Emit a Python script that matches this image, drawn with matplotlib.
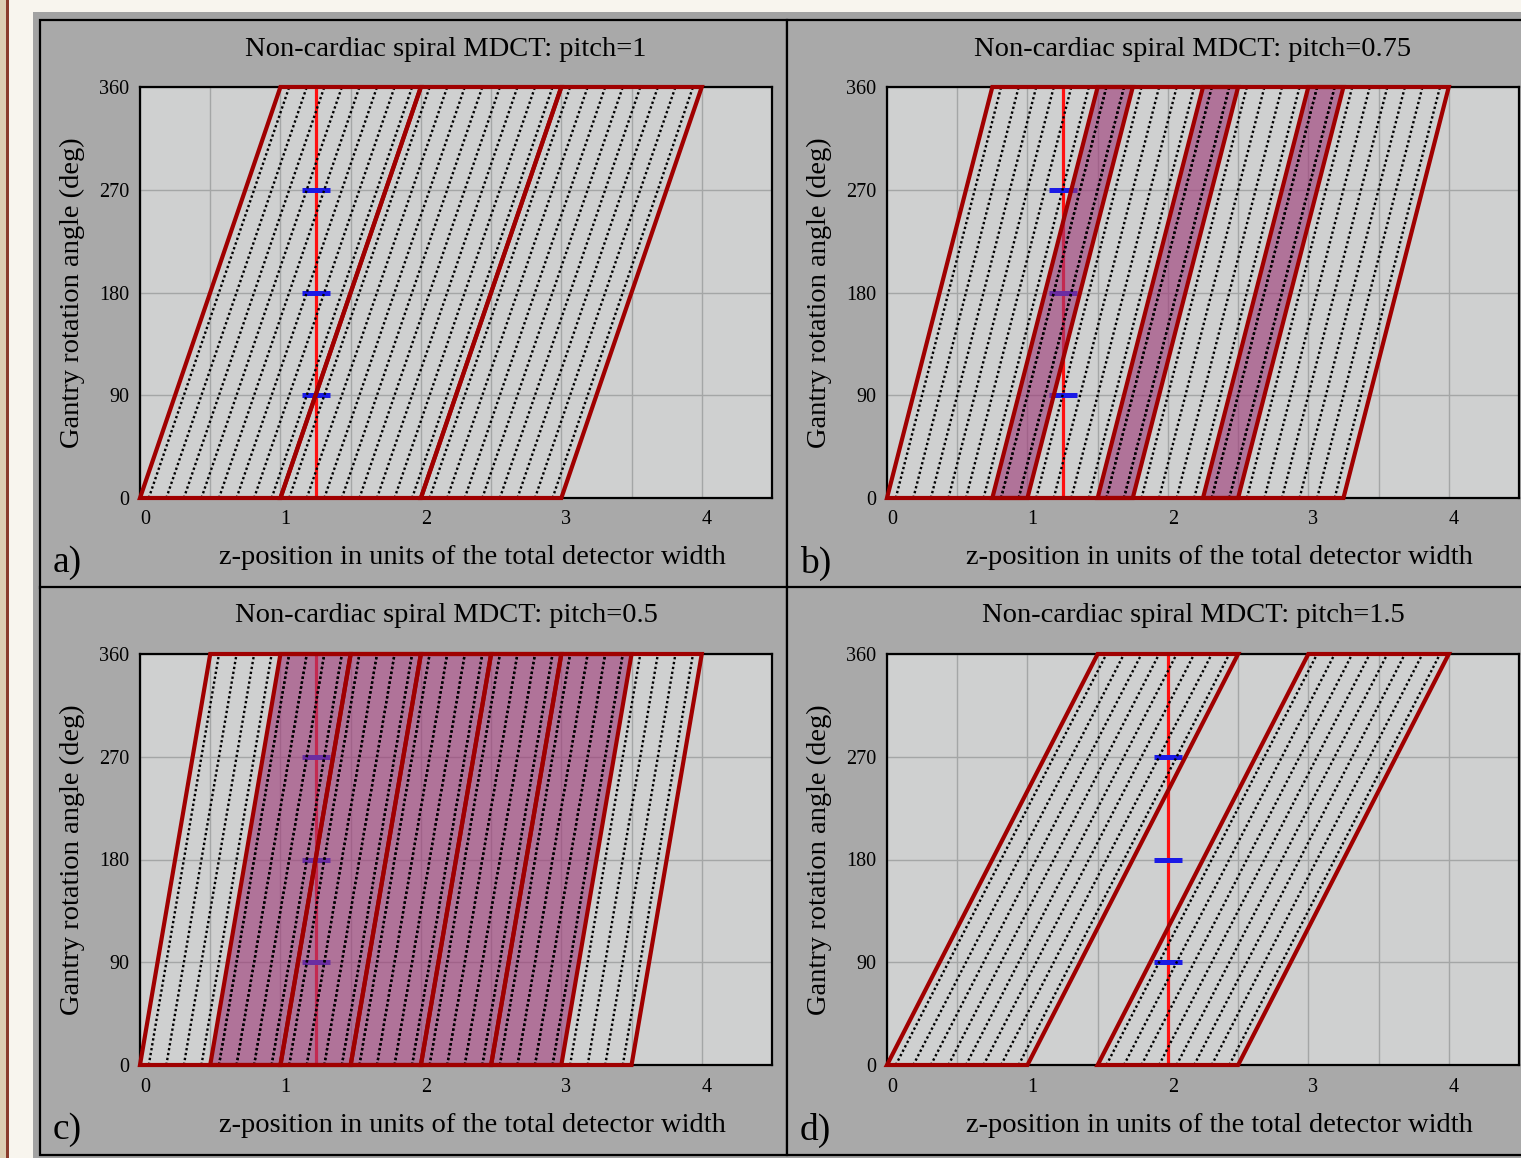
import matplotlib.pyplot as plt
from matplotlib.patches import Rectangle, Polygon
from matplotlib.transforms import ScaledTranslation

plt.rcParams['font.family'] = ['Liberation Serif', 'DejaVu Serif']

# chart data
pitches = [1, 0.75, 0.5, 1.5]
n_rotations = [3, 4, 6, 2]
marker_z = [1.25, 1.25, 1.25, 2.0]
panel_letters = ['a)', 'b)', 'c)', 'd)']
n_rows = 8
tick_angles = [90, 180, 270]
yticks = [0, 90, 180, 270, 360]
xticks = [0, 1, 2, 3, 4]

W, H = 1521, 1158
fig = plt.figure(figsize=(W / 100, H / 100), dpi=100)
fig.patch.set_facecolor('#f8f5ee')


def px_rect(x0, y0, x1, y1, **kw):
    # rectangle given in pixel coords, origin top-left
    r = Rectangle((x0 / W, 1 - y1 / H), (x1 - x0) / W, (y1 - y0) / H,
                  transform=fig.transFigure, zorder=-10, **kw)
    fig.add_artist(r)


# left page strip and outer frame
px_rect(0, 0, 6, H, facecolor='#ddcdb2', edgecolor='none')
px_rect(6, 0, 8.5, H, facecolor='#8a3b2b', edgecolor='none')
px_rect(33, 12, W + 20, H + 20, facecolor='#a2a2a2', edgecolor='none')

panel_origin = [(40, 20), (787, 20), (40, 587), (787, 587)]
for (px0, py0) in panel_origin:
    px_rect(px0, py0, px0 + 747, py0 + 568, facecolor='#a9a9a9',
            edgecolor='black', linewidth=1.6)

shift = ScaledTranslation(5 / 100, 0, fig.dpi_scale_trans)

for i in range(4):
    p = pitches[i]
    n = n_rotations[i]
    px0, py0 = panel_origin[i]
    ax_l, ax_t = px0 + 100, py0 + 67
    ax_w, ax_h = 632, 411
    ax = fig.add_axes([ax_l / W, 1 - (ax_t + ax_h) / H, ax_w / W, ax_h / H])
    ax.set_facecolor('#cfd0d0')
    ax.set_xlim(0, 4.5)
    ax.set_ylim(0, 360)
    ax.set_xticks([k * 0.5 for k in range(10)])
    ax.set_xticklabels([str(k // 2) if k % 2 == 0 else '' for k in range(10)])
    ax.set_yticks(yticks)
    ax.set_yticklabels([str(v) for v in yticks])
    ax.tick_params(length=0, labelsize=14.5)
    ax.tick_params(axis='y', pad=8)
    ax.tick_params(axis='x', pad=9)
    for lbl in ax.get_xticklabels():
        lbl.set_transform(lbl.get_transform() + shift)
    ax.grid(True, color='#a4a6a6', linewidth=1.0, zorder=0)
    ax.set_axisbelow(True)
    for s in ax.spines.values():
        s.set_color('black')
        s.set_linewidth(1.6)

    # red reference line and blue angle marks
    z = marker_z[i]
    ax.axvline(z, color='#ff1010', linewidth=2.3, zorder=2)
    ax.hlines(tick_angles, z - 0.1, z + 0.1, color='#1a1ae6', linewidth=3.6, zorder=2)

    # overlap (double sampled) regions in sheared coordinate u = z - p*angle/360
    spans = []
    for k in range(n - 1):
        a, b = (k + 1) * p, k * p + 1
        if b > a:
            if spans and a <= spans[-1][1]:
                spans[-1][1] = max(spans[-1][1], b)
            else:
                spans.append([a, b])
    for a, b in spans:
        ax.add_patch(Polygon([(a, 0), (b, 0), (b + p, 360), (a + p, 360)],
                             closed=True, facecolor='#9e3a78', alpha=0.62,
                             edgecolor='none', zorder=3))

    # detector rows (dotted) and rotation outlines
    for k in range(n):
        u0 = k * p
        for r in range(n_rows):
            u = u0 + (r + 0.5) / n_rows
            ax.plot([u, u + p], [0, 360], color='black', linewidth=1.7,
                    linestyle=(0, (1.0, 1.1)), zorder=4)
        ax.add_patch(Polygon([(u0, 0), (u0 + 1, 0), (u0 + 1 + p, 360), (u0 + p, 360)],
                             closed=True, facecolor='none', edgecolor='#a00000',
                             linewidth=3.0, zorder=5, clip_on=False,
                             joinstyle='miter'))

    ax.set_ylabel('Gantry rotation angle (deg)', fontsize=20.5, labelpad=10)
    fig.text((ax_l + 306) / W, 1 - (py0 + 29) / H,
             f'Non-cardiac spiral MDCT: pitch={p:g}',
             ha='center', va='center', fontsize=20.5)
    fig.text((ax_l + 332) / W, 1 - (py0 + 538) / H,
             'z-position in units of the total detector width',
             ha='center', va='center', fontsize=20.5)
    fig.text((px0 + 13) / W, 1 - (py0 + 543) / H, panel_letters[i],
             ha='left', va='center', fontsize=27)

fig.savefig('out.png', dpi=100, facecolor=fig.get_facecolor())
